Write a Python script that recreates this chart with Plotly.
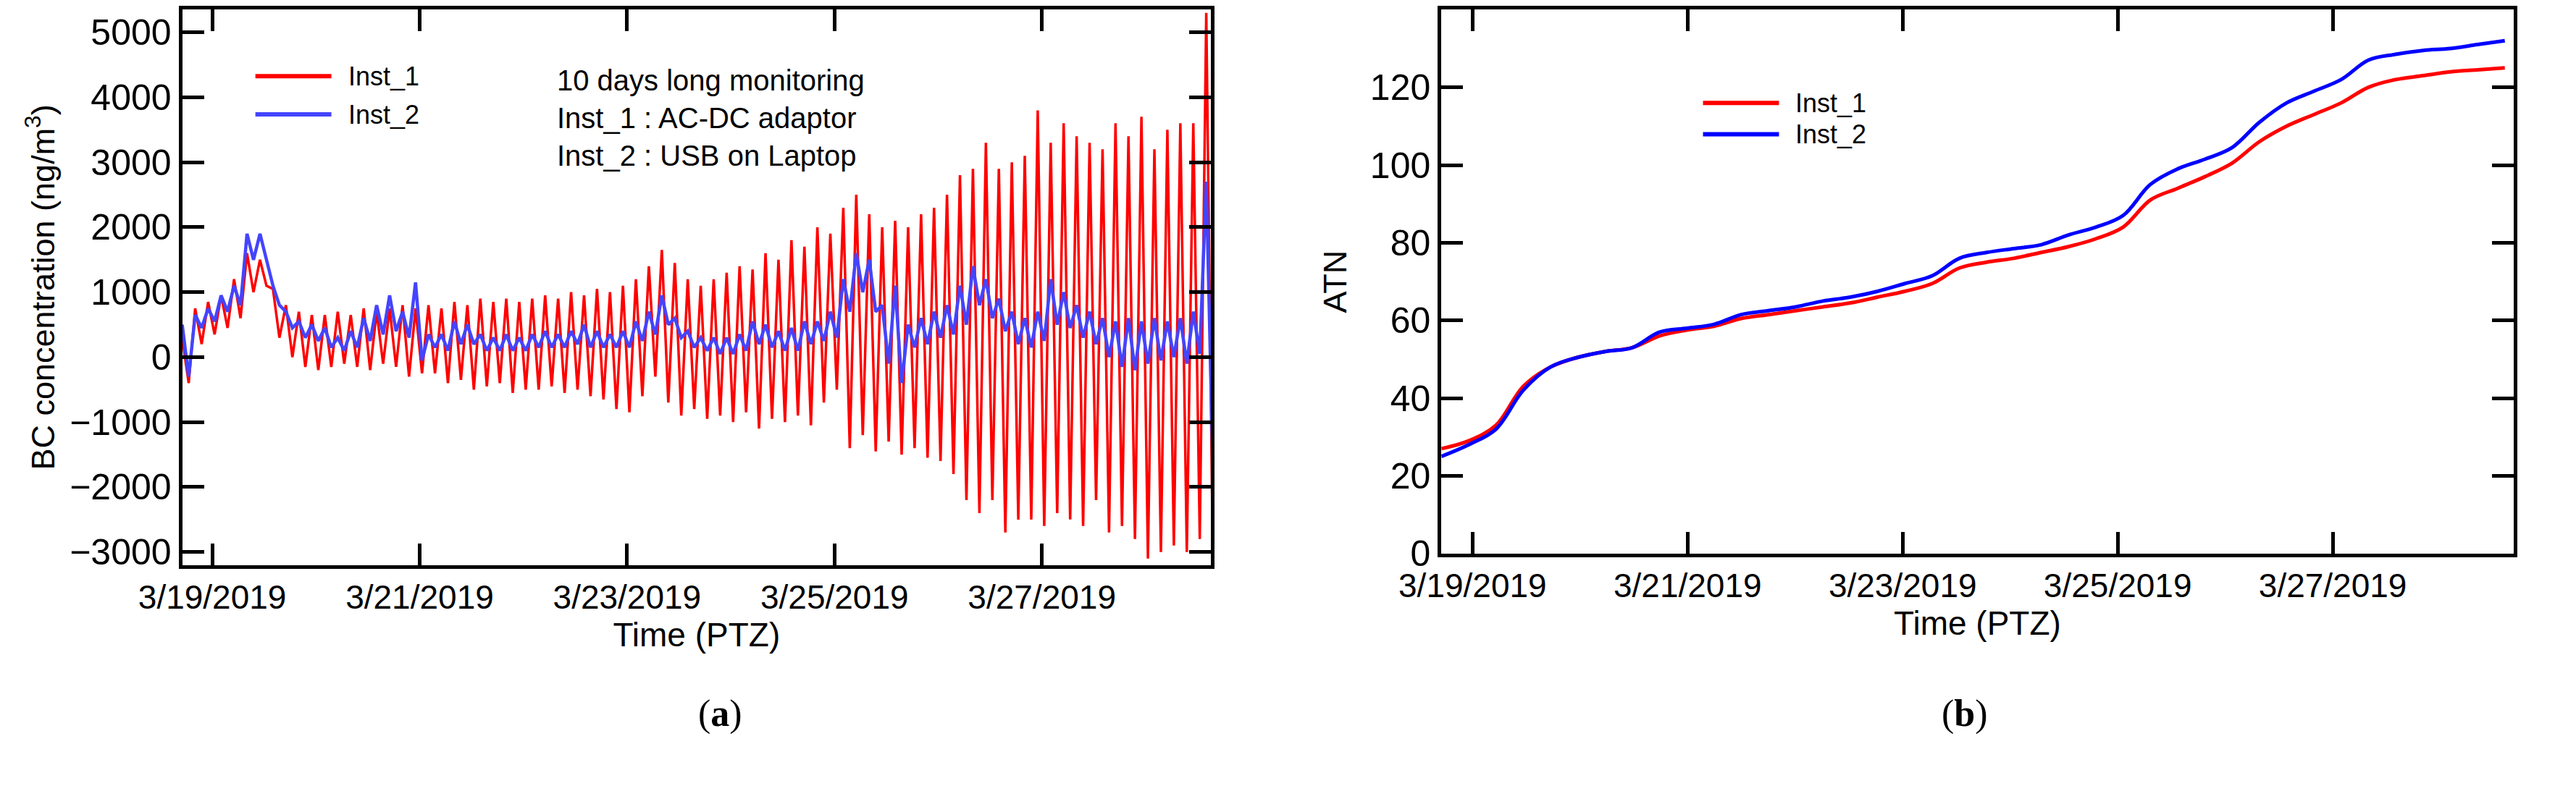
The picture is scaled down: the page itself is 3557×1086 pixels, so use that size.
import numpy as np
import pandas as pd
import plotly.graph_objects as go

# panel (a): BC concentration envelopes (3-hourly, ng/m3)
start_day = -0.29  # days relative to 2019-03-19 00:00
step_a = 0.125
inst1_hi = [300, 750, 850, 950, 1200, 1600, 1500, 1050, 800, 700, 650, 650, 700, 650, 750, 700,
            750, 800, 750, 800, 750, 850, 800, 900, 850, 900, 850, 900, 950, 900, 1000, 950,
            1050, 1000, 1100, 1200, 1400, 1650, 1450, 1200, 1100, 1200, 1300, 1400, 1350, 1600,
            1500, 1800, 1700, 2000, 1900, 2300, 2500, 2200, 2000, 2100, 2000, 2200, 2300, 2500,
            2800, 2900, 3300, 2900, 3000, 3100, 3800, 3300, 3600, 3400, 3300, 3200, 3600, 3400,
            3700, 3200, 3500, 3600, 3600, 5300]
inst1_lo = [-400, 200, 350, 450, 600, 1000, 1100, 300, 0, -150, -200, -150, -100, -150, -200, -100,
            -150, -300, -250, -250, -400, -350, -500, -450, -400, -550, -500, -500, -450, -550,
            -500, -600, -650, -800, -850, -600, -300, -700, -900, -800, -950, -900, -1000, -850,
            -1100, -950, -1000, -900, -1050, -700, -500, -1400, -1200, -1450, -1300, -1500, -1400,
            -1550, -1600, -1800, -2200, -2400, -2200, -2700, -2500, -2500, -2600, -2400, -2500,
            -2600, -2200, -2700, -2600, -2800, -3100, -3000, -2900, -3000, -2800, -3000]
inst2_hi = [500, 650, 750, 950, 1100, 1900, 1900, 1100, 700, 550, 500, 450, 300, 400, 600, 800,
            950, 700, 1150, 350, 350, 550, 500, 350, 300, 350, 300, 350, 400, 350, 400, 500,
            400, 350, 400, 550, 700, 950, 600, 400, 300, 300, 300, 350, 550, 500, 400, 450,
            550, 550, 700, 1200, 1600, 1500, 800, 1100, 500, 600, 700, 800, 1100, 1400, 1200,
            900, 700, 600, 700, 1200, 1000, 800, 700, 600, 550, 600, 550, 600, 550, 600, 700, 2700]
inst2_lo = [-300, 450, 550, 700, 800, 1500, 1500, 800, 450, 300, 250, 150, 100, 150, 250, 350,
            400, 300, -50, 150, 100, 200, 200, 100, 100, 100, 100, 150, 150, 150, 200, 150,
            150, 150, 150, 250, 350, 500, 300, 150, 100, 50, 50, 100, 200, 150, 100, 100,
            200, 250, 300, 700, 1000, 700, -100, -400, 150, 200, 300, 350, 500, 800, 600,
            400, 200, 150, 250, 500, 450, 300, 200, 0, -150, -200, -100, -50, 0, -100, 50, -1600]

# panel (b): ATN
step_b = (9.6 - start_day) / 39
atn_inst1 = [27, 29, 33, 43, 48, 50.5, 52, 53, 56, 57.5, 58.5, 60.5, 61.5, 62.5, 63.5, 64.5, 66,
             67.5, 69.5, 73.5, 75, 76, 77.5, 79, 81, 84, 91, 94, 97, 100.5, 106, 110, 113, 116,
             120, 122, 123, 124, 124.5, 125]
atn_inst2 = [25, 28, 32, 42, 48, 50.5, 52, 53, 57, 58, 59, 61.5, 62.5, 63.5, 65, 66, 67.5, 69.5,
             71.5, 76, 77.5, 78.5, 79.5, 82, 84, 87, 95, 99, 101.5, 104.5, 111, 116, 119, 122,
             127, 128.5, 129.5, 130, 131, 132]

base = pd.Timestamp("2019-03-19")


def day_times(offsets):
    return [base + pd.Timedelta(days=float(d)) for d in offsets]


def zigzag(hi, lo):
    t, v = [], []
    for i, (h, l) in enumerate(zip(hi, lo)):
        t += [start_day + i * step_a, start_day + i * step_a + step_a / 2]
        v += [h, l]
    return day_times(t), v


t1, v1 = zigzag(inst1_hi, inst1_lo)
t2, v2 = zigzag(inst2_hi, inst2_lo)
tb = day_times([start_day + i * step_b for i in range(len(atn_inst1))])

FONT = "Liberation Sans Narrow, Liberation Sans, Arial"
fig = go.Figure()
fig.add_trace(go.Scatter(x=t1, y=v1, mode="lines", name="Inst_1",
                         line=dict(color="#ff0000", width=3.5), xaxis="x", yaxis="y"))
fig.add_trace(go.Scatter(x=t2, y=v2, mode="lines", name="Inst_2",
                         line=dict(color="#4444ff", width=4.5), xaxis="x", yaxis="y"))
fig.add_trace(go.Scatter(x=tb, y=atn_inst1, mode="lines", name="Inst_1", showlegend=False,
                         line=dict(color="#ff0000", width=5, shape="spline"), xaxis="x2", yaxis="y2"))
fig.add_trace(go.Scatter(x=tb, y=atn_inst2, mode="lines", name="Inst_2", showlegend=False,
                         line=dict(color="#0000ff", width=5, shape="spline"), xaxis="x2", yaxis="y2"))

xr = [base + pd.Timedelta(days=start_day), base + pd.Timedelta(days=9.63)]
xr_b = [base + pd.Timedelta(days=start_day), base + pd.Timedelta(days=9.68)]
common_x = dict(type="date", tickformat="%-m/%-d/%Y", dtick=2 * 86400000, tick0="2019-03-19",
                showgrid=False, zeroline=False, showline=True, linecolor="black", linewidth=5,
                mirror="ticks", ticks="inside", ticklen=30, tickwidth=5, tickcolor="black",
                tickfont=dict(family=FONT, size=46, color="black"),
                title=dict(text="Time (PTZ)", font=dict(family=FONT, size=46, color="black"),
                           standoff=2))
common_y = dict(showgrid=False, zeroline=False, showline=True, linecolor="black", linewidth=5,
                mirror="ticks", ticks="inside", ticklen=30, tickwidth=5, tickcolor="black",
                tickfont=dict(family=FONT, size=50, color="black"))

fig.update_layout(
    width=3557, height=1086, margin=dict(l=0, r=0, t=0, b=0),
    paper_bgcolor="white", plot_bgcolor="white", showlegend=False,
    xaxis=dict(common_x, domain=[0.0525, 0.4587], range=xr, anchor="y"),
    yaxis=dict(common_y, domain=[0.269, 0.995], range=[-3200, 5350], dtick=1000, anchor="x",
               title=dict(text="BC concentration (ng/m<sup>3</sup>)",
                          font=dict(family="Liberation Sans, Arial", size=45, color="black"),
                          standoff=8)),
    xaxis2=dict(common_x, domain=[0.5497, 0.973], range=xr_b, anchor="y2"),
    yaxis2=dict(common_y, domain=[0.284, 0.995], range=[0, 140], dtick=20, anchor="x2",
                title=dict(text="ATN", font=dict(family="Liberation Sans, Arial", size=45,
                                                 color="black"), standoff=20)),
)


# legends drawn as short line samples + labels
def legend_entry(x0, y, color, label):
    fig.add_shape(type="line", xref="paper", yref="paper", x0=x0, x1=x0 + 0.03, y0=y, y1=y,
                  line=dict(color=color, width=6))
    fig.add_annotation(xref="paper", yref="paper", x=x0 + 0.036, y=y, text=label,
                       showarrow=False, xanchor="left", yanchor="middle",
                       font=dict(family=FONT, size=36, color="black"))


legend_entry(0.0814, 0.908, "#ff0000", "Inst_1")
legend_entry(0.0814, 0.858, "#4444ff", "Inst_2")
legend_entry(0.653, 0.873, "#ff0000", "Inst_1")
legend_entry(0.653, 0.832, "#0000ff", "Inst_2")

fig.add_annotation(xref="paper", yref="paper", x=0.2, y=0.925, showarrow=False,
                   xanchor="left", yanchor="top", align="left",
                   text="10 days long monitoring<br>Inst_1 : AC-DC adaptor<br>Inst_2 : USB on Laptop",
                   font=dict(family=FONT, size=40, color="black"))
fig.add_annotation(xref="paper", yref="paper", x=0.2556, y=0.045, showarrow=False,
                   text="(<b>a</b>)", font=dict(family="Liberation Serif, serif", size=52,
                                                color="black"))
fig.add_annotation(xref="paper", yref="paper", x=0.766, y=0.045, showarrow=False,
                   text="(<b>b</b>)", font=dict(family="Liberation Serif, serif", size=52,
                                                color="black"))

fig.write_html("out.html")
